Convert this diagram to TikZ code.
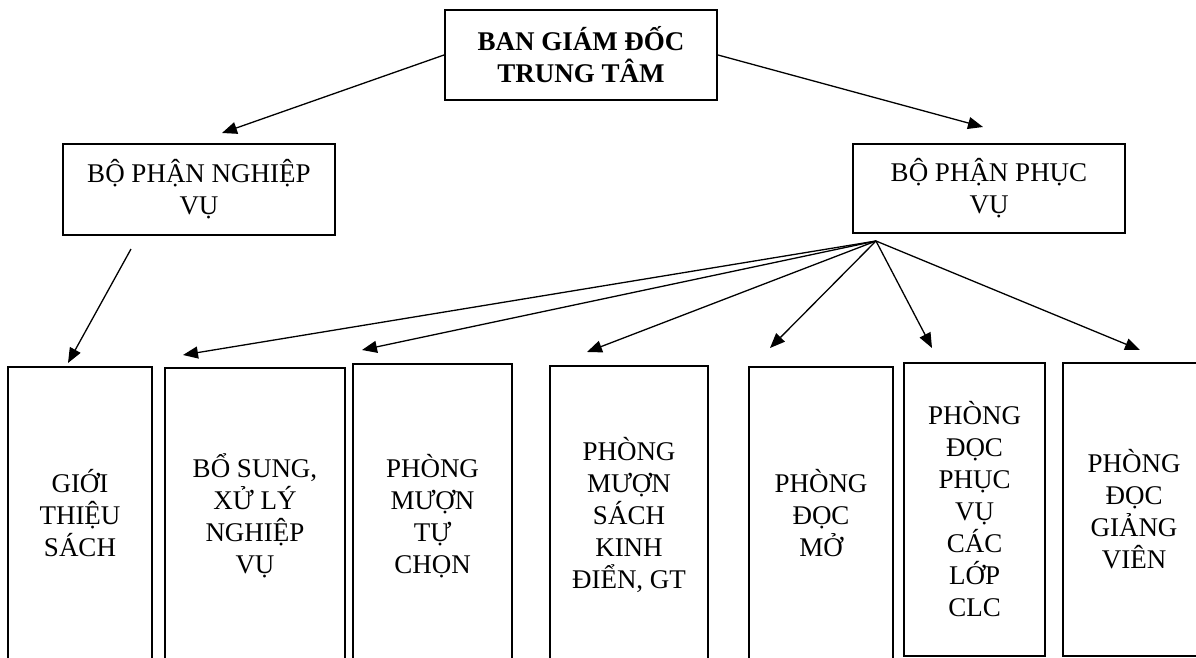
\documentclass[tikz,border=0pt]{standalone}
\usepackage{fontspec}
\setmainfont{Liberation Serif}
\usetikzlibrary{arrows.meta}
\begin{document}
\begin{tikzpicture}[x=1pt,y=-1pt,
  box/.style={draw, line width=2pt, rectangle, align=center, inner sep=0pt,
    font=\fontsize{27}{32}\selectfont},
  conn/.style={line width=1.3pt, -{Triangle[length=15pt,width=12pt]}}]
\useasboundingbox (0,0) rectangle (1196,658);
\clip (0,0) rectangle (1196,658);
% top level
\node[box, minimum width=272pt, minimum height=90pt,
  font=\fontsize{27}{32}\selectfont\bfseries] (top) at (581,55) {BAN GIÁM ĐỐC\\TRUNG TÂM};
% second level
\node[box, minimum width=272pt, minimum height=91pt] (nv) at (199,189.5) {BỘ PHẬN NGHIỆP\\VỤ};
\node[box, minimum width=272pt, minimum height=89pt] (pv) at (989,188.5) {BỘ PHẬN PHỤC\\VỤ};
% bottom level
\node[box, minimum width=144pt, minimum height=292.6pt] (b1) at (80,513.3) {GIỚI\\THIỆU\\SÁCH};
\node[box, minimum width=180pt, minimum height=295.4pt] (b2) at (255,515.7) {BỔ SUNG,\\XỬ LÝ\\NGHIỆP\\VỤ};
\node[box, minimum width=159pt, minimum height=303.5pt] (b3) at (432.5,515.75) {PHÒNG\\MƯỢN\\TỰ\\CHỌN};
\node[box, minimum width=158pt, minimum height=298.5pt] (b4) at (629,515.25) {PHÒNG\\MƯỢN\\SÁCH\\KINH\\ĐIỂN, GT};
\node[box, minimum width=144pt, minimum height=292.5pt] (b5) at (821,513.25) {PHÒNG\\ĐỌC\\MỞ};
\node[box, minimum width=141pt, minimum height=293pt] (b6) at (974.5,509.5) {PHÒNG\\ĐỌC\\PHỤC\\VỤ\\CÁC\\LỚP\\CLC};
\node[box, minimum width=142pt, minimum height=293pt] (b7) at (1134,509.5) {PHÒNG\\ĐỌC\\GIẢNG\\VIÊN};
% connector end points
\coordinate (nvtip) at (222,133);
\coordinate (pvtip) at (983,127);
\coordinate (nvsrc) at (131,249);
\coordinate (pvsrc) at (876,241);
\coordinate (t1) at (68,363);
\coordinate (t2) at (183,355);
\coordinate (t3) at (362,350);
\coordinate (t4) at (587,352);
\coordinate (t5) at (770,348);
\coordinate (t6) at (932,348);
\coordinate (t7) at (1140,350);
% connectors
\draw[conn] (top.west) -- (nvtip);
\draw[conn] (top.east) -- (pvtip);
\draw[conn] (nvsrc) -- (t1);
\foreach \t in {t2,t3,t4,t5,t6,t7} \draw[conn] (pvsrc) -- (\t);
\end{tikzpicture}
\end{document}
